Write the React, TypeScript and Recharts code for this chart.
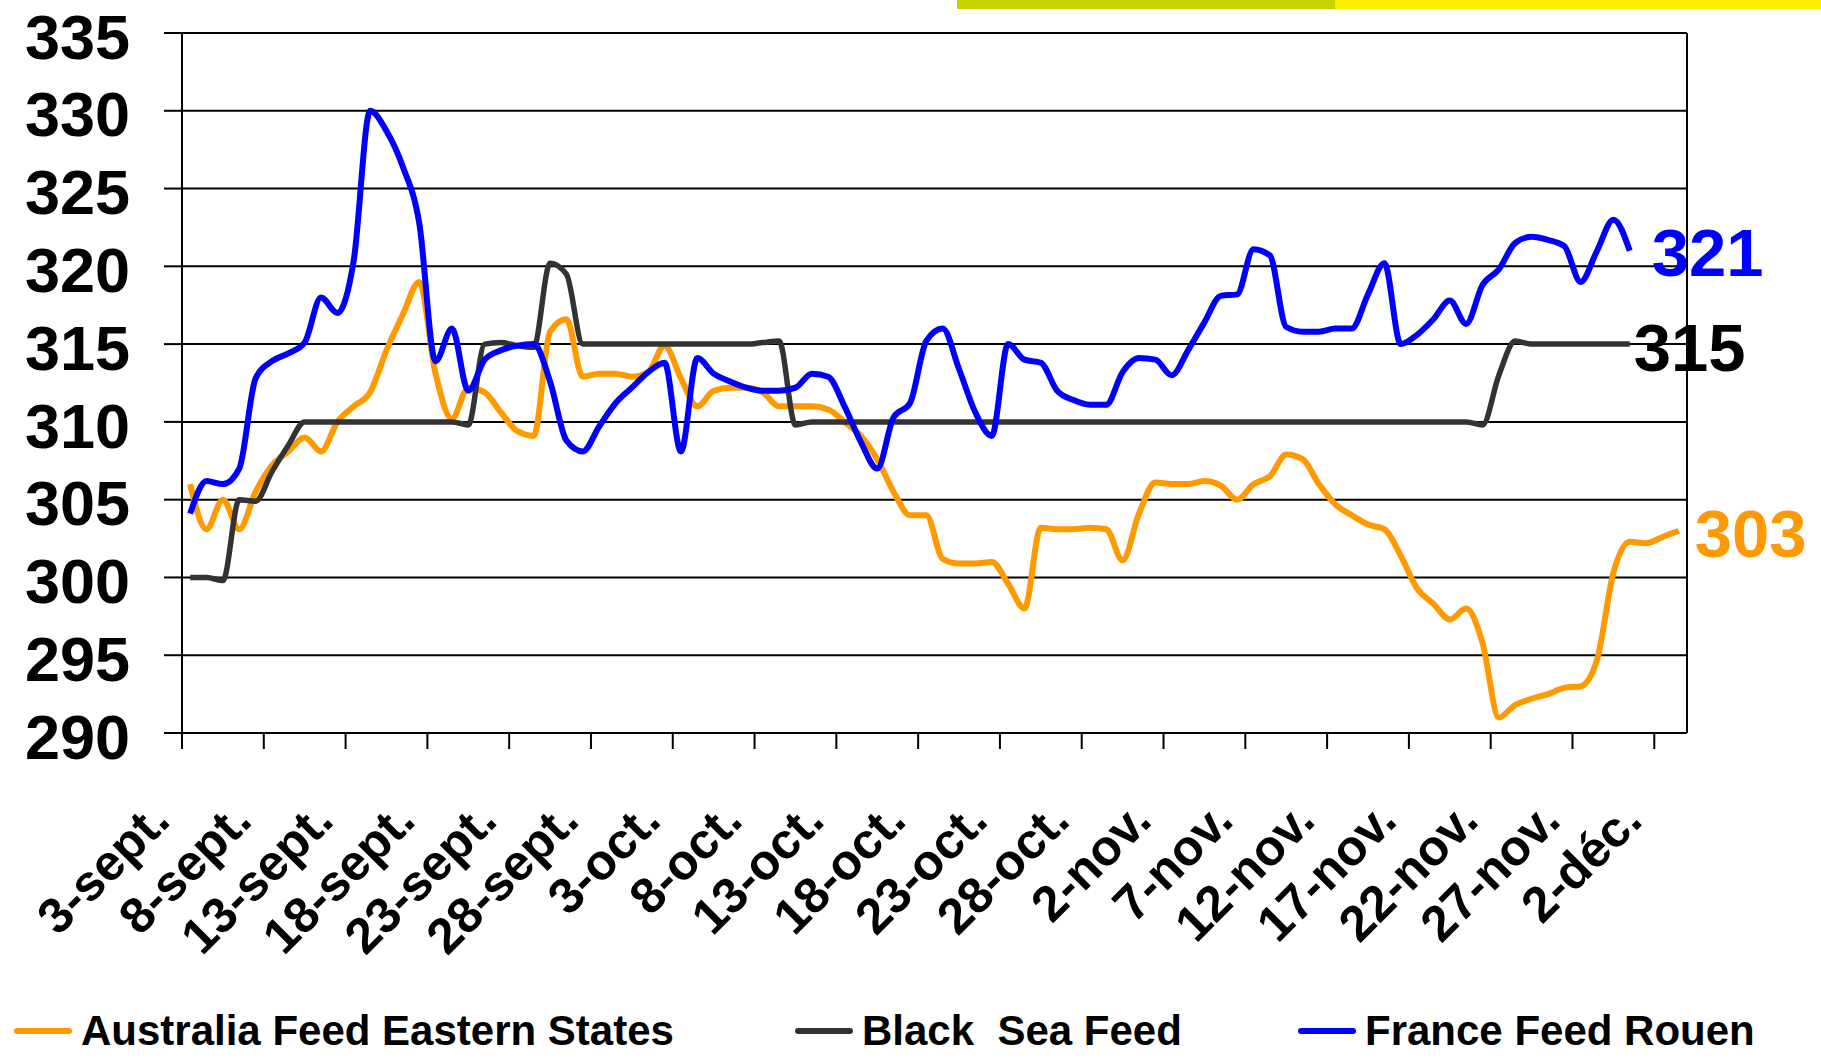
import React from "react";
import { LineChart, Line, XAxis, YAxis, CartesianGrid, Legend, ReferenceLine } from "recharts";

// tick labels, one every 5 days starting 3-sept.
const tickLabels = [
  "3-sept.", "8-sept.", "13-sept.", "18-sept.", "23-sept.", "28-sept.",
  "3-oct.", "8-oct.", "13-oct.", "18-oct.", "23-oct.", "28-oct.",
  "2-nov.", "7-nov.", "12-nov.", "17-nov.", "22-nov.", "27-nov.", "2-déc."
];

// daily values, 3-sept. -> 3-déc.
const australia = [
  306.0, 303.1, 305.0, 303.1, 305.5, 307.2, 308.1, 309.0, 308.1, 310.0,
  311.0, 311.9, 314.6, 316.9, 319.0, 313.1, 310.2, 312.2, 311.9, 310.6,
  309.4, 309.1, 315.8, 316.6, 312.9, 313.1, 313.1, 312.9, 313.2, 314.9,
  312.8, 311.0, 312.0, 312.2, 312.2, 311.9, 311.0, 311.0, 311.0, 310.8,
  310.0, 309.1, 307.6, 305.5, 304.0, 304.0, 301.2, 300.9, 300.9, 301.0,
  299.6, 298.0, 303.2, 303.1, 303.1, 303.2, 303.1, 301.1, 304.1, 306.1,
  306.0, 306.0, 306.2, 305.9, 305.0, 306.0, 306.5, 307.9, 307.6, 306.0,
  304.7, 304.0, 303.4, 303.1, 301.4, 299.3, 298.3, 297.3, 298.0, 295.8,
  291.0, 291.8, 292.2, 292.5, 292.9, 293.0, 294.7, 300.3, 302.3, 302.2,
  302.6, 303.0
];

const blackSea = [
  300.0, 300.0, 299.8, 305.0, 304.9, 306.8, 308.5, 310.0, 310.0, 310.0,
  310.0, 310.0, 310.0, 310.0, 310.0, 310.0, 310.0, 309.8, 315.0, 315.1,
  314.9, 314.8, 320.2, 319.5, 315.0, 315.0, 315.0, 315.0, 315.0, 315.0,
  315.0, 315.0, 315.0, 315.0, 315.0, 315.1, 315.2, 309.8, 310.0, 310.0,
  310.0, 310.0, 310.0, 310.0, 310.0, 310.0, 310.0, 310.0, 310.0, 310.0,
  310.0, 310.0, 310.0, 310.0, 310.0, 310.0, 310.0, 310.0, 310.0, 310.0,
  310.0, 310.0, 310.0, 310.0, 310.0, 310.0, 310.0, 310.0, 310.0, 310.0,
  310.0, 310.0, 310.0, 310.0, 310.0, 310.0, 310.0, 310.0, 310.0, 309.8,
  313.0, 315.2, 315.0, 315.0, 315.0, 315.0, 315.0, 315.0, 315.0
];

const france = [
  304.1, 306.2, 306.0, 307.0, 312.8, 313.9, 314.4, 315.1, 318.0, 317.0,
  320.4, 330.0, 328.7, 326.4, 322.8, 313.9, 316.0, 312.0, 314.0, 314.6,
  314.9, 315.0, 312.6, 308.8, 308.1, 309.7, 311.2, 312.2, 313.2, 313.8,
  308.1, 314.1, 313.1, 312.6, 312.2, 312.0, 312.0, 312.2, 313.1, 312.9,
  311.0, 308.7, 307.0, 310.3, 311.2, 315.2, 316.0, 313.4, 310.6, 309.1,
  315.0, 314.0, 313.8, 312.0, 311.4, 311.1, 311.1, 313.2, 314.1, 314.0,
  313.0, 314.6, 316.4, 318.1, 318.2, 321.1, 320.7, 316.1, 315.8, 315.8,
  316.0, 316.0, 318.2, 320.2, 315.0, 315.6, 316.6, 317.8, 316.3, 318.8,
  319.8, 321.5, 321.9, 321.7, 321.3, 319.0, 321.0, 323.0, 321.0
];

const yTicks = [290, 295, 300, 305, 310, 315, 320, 325, 330, 335];

const FONT = "'Liberation Sans', Arial, Helvetica, sans-serif";
const ORANGE = "#FF9900";
const DARK = "#333333";
const BLUE = "#0000FF";

const rows = australia.map((v, i) => ({
  x: i + 0.5,
  aus: v,
  bs: blackSea[i],
  fr: france[i],
}));

const xTicks = tickLabels.map((_, i) => i * 5);

const XTick = (props: any) => {
  const { x, y, payload } = props;
  const tx = x - 10;
  const ty = y + 72;
  return (
    <text
      x={tx}
      y={ty}
      transform={`rotate(-45, ${tx}, ${ty})`}
      textAnchor="end"
      fontFamily={FONT}
      fontWeight="bold"
      fontSize={50}
      fill="#000"
    >
      {tickLabels[payload.value / 5]}
    </text>
  );
};

const YTick = (props: any) => {
  const { x, y, payload } = props;
  return (
    <text
      x={x}
      y={y + 3}
      dy="0.36em"
      textAnchor="end"
      fontFamily={FONT}
      fontWeight="bold"
      fontSize={63}
      fill="#000"
    >
      {payload.value}
    </text>
  );
};

const endLabel = (last: number, color: string, dx: number, dy: number) => (props: any) => {
  const { x, y, index, value } = props;
  if (index !== last) return null;
  return (
    <text
      x={x + dx}
      y={y + dy}
      dy="0.36em"
      fontFamily={FONT}
      fontWeight="bold"
      fontSize={67}
      fill={color}
    >
      {Math.round(value)}
    </text>
  );
};

const legendItems = [
  { label: "Australia Feed Eastern States", color: ORANGE, left: 14 },
  { label: "Black  Sea Feed", color: DARK, left: 795 },
  { label: "France Feed Rouen", color: BLUE, left: 1298 },
];

const ChartLegend = () => (
  <div style={{ position: "relative", width: 1821, height: 60 }}>
    {legendItems.map((it) => (
      <div
        key={it.label}
        style={{
          position: "absolute",
          left: it.left,
          top: 0,
          height: 60,
          display: "flex",
          alignItems: "center",
        }}
      >
        <span
          style={{
            display: "inline-block",
            width: 58,
            height: 6,
            borderRadius: 3,
            background: it.color,
            marginRight: 9,
          }}
        />
        <span
          style={{
            fontFamily: FONT,
            fontWeight: "bold",
            fontSize: 42,
            color: "#000",
            whiteSpace: "pre",
          }}
        >
          {it.label}
        </span>
      </div>
    ))}
  </div>
);

export default function App() {
  return (
    <div style={{ position: "absolute", left: 0, top: 0, width: 1821, height: 1064, background: "#fff" }}>
      <div style={{ position: "absolute", left: 957, top: 0, width: 378, height: 9, background: "#C8D400" }} />
      <div style={{ position: "absolute", left: 1335, top: 0, width: 486, height: 9, background: "#FFEE00" }} />
      <LineChart
        width={1821}
        height={1064}
        data={rows}
        margin={{ top: 33, right: 134, bottom: 3, left: 32 }}
      >
        <CartesianGrid vertical={false} stroke="#000" strokeWidth={2} />
        <XAxis
          dataKey="x"
          type="number"
          domain={[0, 92]}
          ticks={xTicks}
          interval={0}
          height={268}
          tickSize={16}
          axisLine={{ stroke: "#000", strokeWidth: 2 }}
          tickLine={{ stroke: "#000", strokeWidth: 2 }}
          tick={<XTick />}
        />
        <YAxis
          domain={[290, 335]}
          ticks={yTicks}
          interval={0}
          width={150}
          tickSize={18}
          tickMargin={34}
          axisLine={{ stroke: "#000", strokeWidth: 2 }}
          tickLine={{ stroke: "#000", strokeWidth: 2 }}
          tick={<YTick />}
        />
        <ReferenceLine x={92} stroke="#000" strokeWidth={2} />
        <Legend verticalAlign="bottom" wrapperStyle={{ left: 0, width: 1821 }} content={<ChartLegend />} />
        <Line
          type="monotone"
          dataKey="aus"
          name="Australia Feed Eastern States"
          stroke={ORANGE}
          strokeWidth={6}
          dot={false}
          activeDot={false}
          isAnimationActive={false}
          label={endLabel(australia.length - 1, ORANGE, 16, 2)}
        />
        <Line
          type="monotone"
          dataKey="bs"
          name="Black  Sea Feed"
          stroke={DARK}
          strokeWidth={5.5}
          dot={false}
          activeDot={false}
          isAnimationActive={false}
          label={endLabel(blackSea.length - 1, "#000", 4, 3)}
        />
        <Line
          type="monotone"
          dataKey="fr"
          name="France Feed Rouen"
          stroke={BLUE}
          strokeWidth={6}
          dot={false}
          activeDot={false}
          isAnimationActive={false}
          label={endLabel(france.length - 1, BLUE, 22, 1)}
        />
      </LineChart>
    </div>
  );
}
